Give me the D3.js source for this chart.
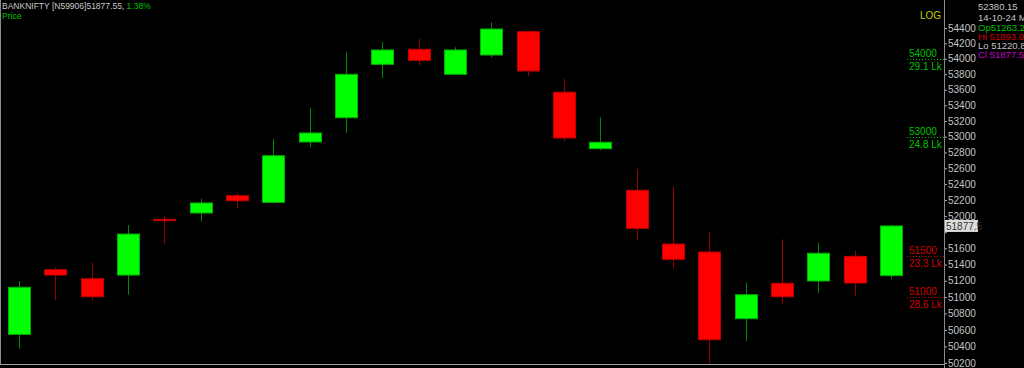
<!DOCTYPE html>
<html>
<head>
<meta charset="utf-8">
<script src="https://cdn.jsdelivr.net/npm/d3@7"></script>
<style>
  html, body { margin: 0; padding: 0; background: #000; overflow: hidden; }
  text { font-family: "Liberation Sans Narrow", "Liberation Sans", sans-serif; font-size: 10px; }
</style>
</head>
<body>
<script>
// daily sessions, last one is 14-10-24 (Mon)
const days = [1, 2, 3, 4, 5, 6, 7, 8, 9, 10, 11, 12, 13, 14, 15, 16, 17, 18, 19, 20, 21, 22, 23, 24, 25];
const open  = [50546, 51336, 51225, 51270, 51960, 52039, 52255, 52172, 52933, 53242, 53928, 54123, 53799,
               54049, 54352, 53568, 52848, 52323, 51653, 51554, 50736, 51169, 51197, 51501, 51263.25];
const high  = [51197, 51366, 51427, 51889, 52005, 52217, 52289, 52967, 53370, 54084, 54218, 54257, 54149,
               54474, 54365, 53738, 53247, 52587, 52368, 51794, 51176, 51712, 51669, 51570, 51893.00];
const low   = [50373, 50964, 50955, 51029, 51657, 51931, 52097, 52165, 52865, 53051, 53751, 53919, 53795,
               54019, 53777, 52945, 52827, 51694, 51353, 50196, 50469, 50907, 51053, 51013, 51220.85];
const close = [51120, 51270, 51004, 51777, 51943, 52164, 52192, 52759, 53047, 53799, 54114, 53980, 54114,
               54387, 53842, 52984, 52929, 51848, 51464, 50481, 51029, 51004, 51539, 51172, 51877.55];

const priceTicks = [50200, 50400, 50600, 50800, 51000, 51200, 51400, 51600, 51800, 52000, 52200, 52400,
                    52600, 52800, 53000, 53200, 53400, 53600, 53800, 54000, 54200, 54400];

// option open-interest levels marked at the right edge
const oiLevels = [54000, 53000, 51500, 51000];
const oiLabels = ["29.1 Lk", "24.8 Lk", "23.3 Lk", "28.6 Lk"];
const oiSide   = ["call", "call", "put", "put"];

const info = {symbol: "BANKNIFTY [N59906]", last: "51877.55", change: "1.38%",
              cursor: "52380.15", date: "14-10-24 Mo"};

const W = 1024, H = 368;
const axisX = 944;

const svg = d3.select("body").append("svg")
    .attr("width", W)
    .attr("height", H);

svg.append("rect").attr("width", W).attr("height", H).attr("fill", "#000");

const x = d3.scalePoint().domain(days).range([19, 891]);
const y = d3.scaleLog().domain([50200, 54400]).range([363, 28]);
const bodyW = 22;

const candles = days.map((d, i) => ({d, o: open[i], h: high[i], l: low[i], c: close[i]}));
const lastClose = close[close.length - 1];

// frame
svg.append("line").attr("x1", 0.5).attr("x2", 0.5).attr("y1", 0).attr("y2", 364)
    .attr("stroke", "#8a8a8a");
svg.append("line").attr("x1", 0).attr("x2", axisX).attr("y1", 364.5).attr("y2", 364.5)
    .attr("stroke", "#a0a0a0");

// right price axis (the label under the last-price box is hidden by it)
const axis = svg.append("g")
    .attr("transform", `translate(${axisX},0)`)
    .call(d3.axisRight(y).tickValues(priceTicks).tickFormat(d3.format("d")).tickSize(3).tickPadding(1));
axis.select(".domain").remove();
axis.selectAll(".tick line").attr("stroke", "#b0b0b0");
axis.selectAll(".tick text").attr("fill", "#c4c4c4")
    .style("font-family", "'Liberation Sans Narrow', sans-serif").style("font-size", "10px")
    .filter(d => Math.abs(y(d) - y(lastClose)) < 9).remove();
svg.append("line").attr("x1", axisX + 0.5).attr("x2", axisX + 0.5).attr("y1", 0).attr("y2", H)
    .attr("stroke", "#8a8a8a");

// candles
const g = svg.append("g");
g.selectAll("line.wick")
  .data(candles)
  .join("line")
    .attr("class", "wick")
    .attr("x1", d => Math.round(x(d.d)) + 0.5)
    .attr("x2", d => Math.round(x(d.d)) + 0.5)
    .attr("y1", d => y(d.h))
    .attr("y2", d => y(d.l))
    .attr("stroke", d => d.c >= d.o ? "#008a00" : "#9a0000")
    .attr("stroke-width", 1);

g.selectAll("rect.body")
  .data(candles)
  .join("rect")
    .attr("class", "body")
    .attr("x", d => Math.round(x(d.d) - bodyW / 2) + 0.5)
    .attr("width", bodyW)
    .attr("y", d => y(Math.max(d.o, d.c)))
    .attr("height", d => Math.max(1, Math.abs(y(d.o) - y(d.c))))
    .attr("fill", d => d.c >= d.o ? "#00ff00" : "#ff0000")
    .attr("stroke", d => d.c >= d.o ? "#00b000" : "#c00000")
    .attr("stroke-width", 1);

// OI markers
const oi = svg.append("g");
oiLevels.forEach((lv, i) => {
  const col = oiSide[i] === "call" ? "#00c000" : "#d00000";
  const yy = Math.round(y(lv)) + 0.5;
  oi.append("line").attr("x1", 907).attr("x2", axisX).attr("y1", yy).attr("y2", yy)
      .attr("stroke", col).attr("stroke-dasharray", "1,2");
  oi.append("text").attr("x", 909).attr("y", yy - 3).attr("fill", col).text(lv);
  oi.append("text").attr("x", 909).attr("y", yy + 10).attr("fill", col).text(oiLabels[i]);
});

// last price marker
const lastY = y(lastClose);
svg.append("rect").attr("x", axisX + 1).attr("y", lastY - 6).attr("width", 33).attr("height", 12)
    .attr("fill", "#dcdcdc");
svg.append("text").attr("x", axisX + 2).attr("y", lastY + 4).attr("fill", "#333")
    .text(info.last.slice(0, 7));

// header
const head = svg.append("text").attr("x", 2).attr("y", 9).style("font-size", "8.5px");
head.append("tspan").attr("fill", "#c8c8c8").text(info.symbol + info.last + ", ");
head.append("tspan").attr("fill", "#00c000").text(info.change);
svg.append("text").attr("x", 2).attr("y", 19).attr("fill", "#00c000").style("font-size", "8.5px").text("Price");
svg.append("text").attr("x", 941).attr("y", 19).attr("text-anchor", "end").attr("fill", "#c8c800").text("LOG");

// data window
const panel = [
  {t: info.cursor, c: "#c4c4c4"},
  {t: info.date, c: "#c4c4c4"},
  {t: "Op" + d3.format(".2f")(open[open.length - 1]), c: "#00c000"},
  {t: "Hi " + d3.format(".2f")(high[high.length - 1]), c: "#d00000"},
  {t: "Lo " + d3.format(".2f")(low[low.length - 1]), c: "#c4c4c4"},
  {t: "Cl " + d3.format(".2f")(lastClose), c: "#c000c0"}
];
const rowY = [10, 21, 31, 40, 49, 58];
svg.selectAll("text.panel")
  .data(panel)
  .join("text")
    .attr("class", "panel")
    .attr("x", 978)
    .attr("y", (d, i) => rowY[i])
    .attr("fill", d => d.c)
    .style("font-family", "'Liberation Sans', sans-serif")
    .style("font-size", "9.5px")
    .text(d => d.t);
</script>
</body>
</html>
